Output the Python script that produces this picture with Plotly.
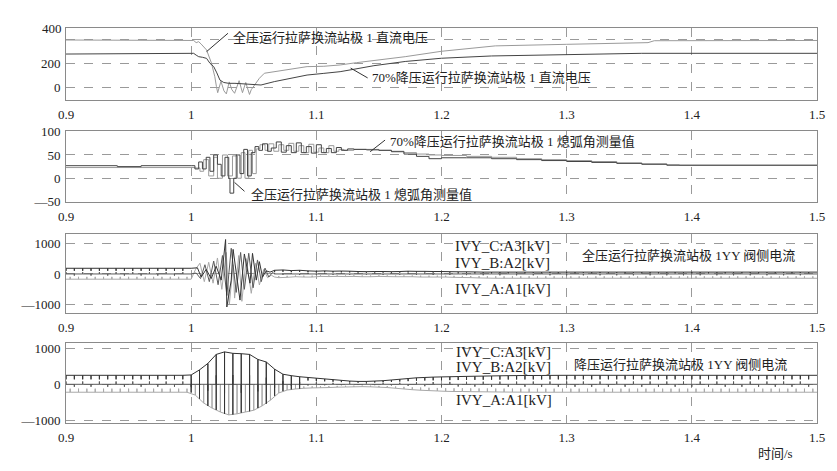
import plotly.graph_objects as go
from plotly.subplots import make_subplots

# ---------------- data ----------------
x_tickvals = [0.9, 1.0, 1.1, 1.2, 1.3, 1.4, 1.5]
x_ticktext = ["0.9", "1", "1.1", "1.2", "1.3", "1.4", "1.5"]

# Panel 1: DC voltage at Lhasa station, pole 1 (time s, kV)
udc_full = [(0.9, 394), (1.0, 394), (1.002, 390), (1.004, 372), (1.006, 380), (1.008, 360),
            (1.0123, 311), (1.0162, 202), (1.0189, 88), (1.0202, 5), (1.0212, -45), (1.0238, 50),
            (1.0262, -30), (1.0281, -55), (1.0304, 45), (1.0325, -20), (1.0347, -50), (1.0383, 55),
            (1.040, -10), (1.041, -45), (1.0436, 40), (1.0466, -60), (1.048, -20), (1.050, 10),
            (1.0525, 40), (1.0545, 75), (1.0585, 117), (1.0664, 130), (1.0743, 144), (1.0822, 158),
            (1.0926, 172), (1.106, 175), (1.119, 186), (1.132, 205), (1.1456, 222), (1.171, 255),
            (1.2, 300), (1.243, 345), (1.30, 358), (1.33, 365), (1.365, 372), (1.37, 388), (1.5, 390)]
udc_70 = [(0.9, 277), (1.0, 277), (1.002, 283), (1.004, 268), (1.006, 255), (1.009, 250),
          (1.0123, 241), (1.015, 200), (1.018, 172), (1.0205, 120), (1.023, 60), (1.026, 40),
          (1.030, 33), (1.035, 33), (1.040, 30), (1.045, 28), (1.050, 20), (1.0558, 19),
          (1.0664, 47), (1.0796, 75), (1.0926, 102), (1.106, 116), (1.119, 130), (1.13, 150),
          (1.146, 180), (1.171, 215), (1.2, 242), (1.24, 261), (1.3, 269), (1.33, 277),
          (1.36, 283), (1.5, 283)]

# Panel 2: measured extinction angle (deg)
gamma_full = [(0.9, 27), (0.94, 27), (0.941, 25), (0.96, 27), (1.0, 27), (1.003, 20), (1.006, 35),
              (1.009, 20), (1.012, 45), (1.015, 15), (1.018, 50), (1.021, 30), (1.024, 5),
              (1.027, 45), (1.030, 0), (1.031, -32), (1.034, 0), (1.036, 50), (1.039, 10),
              (1.042, 62), (1.045, 5), (1.048, 55), (1.051, 68), (1.054, 60), (1.057, 74),
              (1.061, 58), (1.064, 65), (1.068, 78), (1.072, 56), (1.076, 70), (1.080, 55),
              (1.084, 76), (1.088, 55), (1.092, 68), (1.096, 54), (1.100, 72), (1.104, 55),
              (1.108, 64), (1.112, 55), (1.116, 66), (1.120, 60), (1.125, 63), (1.13, 62),
              (1.14, 61), (1.15, 60), (1.16, 57), (1.17, 52), (1.18, 47), (1.19, 42), (1.2, 44),
              (1.22, 44), (1.24, 42), (1.26, 40), (1.28, 38), (1.3, 36), (1.32, 34), (1.34, 32),
              (1.36, 30), (1.38, 28), (1.5, 28)]
gamma_70 = [(0.9, 23), (1.0, 23), (1.003, 22), (1.007, 15), (1.010, 40), (1.014, 5), (1.018, 45),
            (1.021, 0), (1.025, 50), (1.029, 5), (1.033, 48), (1.037, 0), (1.040, 55), (1.043, 0),
            (1.046, 60), (1.049, 10), (1.052, 63), (1.055, 72), (1.059, 60), (1.062, 74),
            (1.066, 58), (1.070, 72), (1.074, 60), (1.078, 75), (1.082, 58), (1.086, 70),
            (1.090, 55), (1.094, 73), (1.098, 56), (1.102, 65), (1.106, 55), (1.110, 70),
            (1.114, 58), (1.118, 62), (1.122, 60), (1.13, 62), (1.14, 62), (1.15, 60), (1.16, 58),
            (1.17, 55), (1.18, 52), (1.19, 50), (1.2, 49), (1.22, 47), (1.24, 45), (1.26, 42),
            (1.28, 40), (1.3, 38), (1.32, 36), (1.34, 33), (1.36, 31), (1.38, 29), (1.39, 28),
            (1.5, 28)]

# Panels 3-4: YY valve-side phase currents as recorded (levels per 60-degree interval, 50 Hz)
seg_t0 = 0.9
seg_dt = 1 / 300
tick_period = 1 / 150          # spacing of the commutation spikes seen on each trace
tick_frac = 0.45               # spike depth relative to the trace level in steady state

# Panel 3 (full-voltage operation): C on top, B centre, A bottom
ivy1_pre_hi = [185] * 30
ivy1_pre_lo = [-170] * 30
ivy1_A_fault = [(1.000, -170), (1.0035, 150), (1.007, 350), (1.0105, -250), (1.014, 380),
                (1.0175, -300), (1.021, 520), (1.0245, -500), (1.028, 700), (1.0305, -1000),
                (1.0335, 300), (1.0347, -785), (1.038, 600), (1.0405, -890), (1.044, 500),
                (1.048, -630), (1.0515, 350), (1.0545, -358), (1.058, 150), (1.061, -120),
                (1.064, -40), (1.0667, -100)]
ivy1_B_fault = [(1.000, 0), (1.004, 30), (1.0075, -150), (1.011, 300), (1.0145, -250),
                (1.018, 420), (1.0215, -350), (1.025, 600), (1.0285, -700), (1.032, 836),
                (1.036, -600), (1.0395, 700), (1.0425, -500), (1.046, 673), (1.0495, -450),
                (1.053, 456), (1.056, -250), (1.059, 190), (1.062, -100), (1.065, 50), (1.0667, 0)]
ivy1_C_fault = [(1.000, 185), (1.005, 200), (1.008, -100), (1.012, 150), (1.016, -150),
                (1.020, 250), (1.024, -200), (1.0275, 1120), (1.0285, -1075), (1.032, -200),
                (1.0335, 800), (1.036, 0), (1.039, -850), (1.0425, 650), (1.047, -300),
                (1.049, 670), (1.052, -200), (1.0545, 400), (1.057, -100), (1.060, 100),
                (1.063, 60), (1.0667, 120)]
ivy1_post_hi = ([120, 100, 130, 90, 110, 100, 120, 90, 100, 110,
                 90, 80, 100, 80, 90, 85, 95, 80, 90, 85,
                 80, 90, 75, 85, 80, 90, 80, 85, 75, 85,
                 80, 85, 90, 80, 85, 80, 85, 80, 80, 80,
                 80, 80, 75, 75, 70, 70, 70, 65, 65, 65, 60, 60, 60, 60, 60] + [60] * 75)
ivy1_post_lo = ([-100, -120, -90, -110, -100, -90, -110, -100, -90, -100,
                 -90, -80, -95, -85, -90, -80, -95, -85, -90, -80,
                 -85, -90, -80, -90, -85, -80, -90, -85, -80, -90,
                 -85, -90, -95, -90, -95, -100, -95, -100, -100, -100,
                 -100, -100, -105, -110, -110, -115, -120, -120, -125, -130, -130, -135, -135,
                 -140, -140] + [-140] * 75)

# Panel 4 (reduced-voltage operation)
ivy2_hi = ([250] * 30 +
           [260, 320, 400, 480, 580, 700, 830, 890, 900, 880, 860, 880,
            850, 860, 830, 760, 690, 660, 620, 540, 420, 330, 280, 260,
            240, 220, 210, 200, 190, 180, 170, 160, 150, 140, 130, 120,
            110, 100, 90, 85, 80, 80, 80, 85, 90, 95, 100, 110,
            120, 130, 140, 150, 160, 170, 180, 185, 190, 195, 200, 200,
            205, 210, 210, 215, 215, 220, 220, 222, 224, 226, 228, 230,
            232, 234, 236, 238, 240, 240, 242, 242, 244, 244, 245, 245,
            245, 246, 247, 248, 249, 250] +
           [250] * 60)
ivy2_lo = ([-220] * 30 +
           [-230, -300, -400, -520, -600, -660, -710, -770, -820, -850, -840, -820,
            -790, -770, -750, -720, -660, -600, -540, -440, -320, -240, -190, -160,
            -140, -130, -120, -110, -110, -100, -100, -95, -90, -90, -85, -80,
            -80, -75, -70, -70, -65, -65, -70, -70, -75, -80, -85, -90,
            -100, -110, -120, -130, -140, -150, -160, -165, -170, -175, -180, -185,
            -190, -195, -195, -200, -200, -200, -205, -205, -207, -208, -210, -210,
            -212, -213, -214, -215, -216, -217, -218, -218, -219, -219, -220, -220,
            -220, -220, -220, -220, -220, -220] +
           [-220] * 60)
ivy2_full_swing = (30, 57)      # intervals where the spikes swing across the whole band

assert len(ivy1_post_hi) == 130 and len(ivy1_post_lo) == 130
assert len(ivy2_hi) == 180 and len(ivy2_lo) == 180

# ---------------- figure ----------------
# the page adds an 8px body margin, so the figure is sized to the remaining window
OFF = 8
W, H = 837 - OFF, 471 - OFF
PL, PR, PT, PB = 60, 817, 28, 423          # plot area in window pixels
ML, MR, MT, MB = PL - OFF, W - (PR - OFF), PT - OFF, H - (PB - OFF)
PH = H - MT - MB


def ydom(top_px, bot_px):
    return [(PB - bot_px) / PH, (PB - top_px) / PH]


fig = make_subplots(rows=4, cols=1)

DARK = "#333333"
MID = "#5a5a5a"
LIGHT = "#a8a8a8"
COL_A, COL_B, COL_C = LIGHT, MID, DARK


def add_xy(pairs, row, color, shape="linear"):
    fig.add_trace(go.Scatter(x=[p[0] for p in pairs], y=[p[1] for p in pairs], mode="lines",
                             line=dict(color=color, width=1, shape=shape),
                             showlegend=False, hoverinfo="skip"), row=row, col=1)


def add_ticked(hi, lo, k_start, which, row, color, full=(0, 0), offset=0.0):
    """Trace held at its level (hi for C, lo for A, 0 for B) with commutation spikes."""
    n = len(hi)
    t_start = seg_t0 + k_start * seg_dt
    t_end = t_start + n * seg_dt

    def base(k):
        return hi[k] if which == "C" else (lo[k] if which == "A" else 0)

    xs, ys = [t_start], [base(0)]
    j = 0
    while True:
        t = t_start + offset + j * tick_period
        if t >= t_end - 1e-9:
            break
        k = min(int((t - t_start) / seg_dt + 1e-9), n - 1)
        kg = k_start + k
        swing = full[0] <= kg < full[1]
        b = base(k)
        if which == "C":
            tgt = lo[k] if swing else b * (1 - tick_frac)
        elif which == "A":
            tgt = 0 if swing else b * (1 - tick_frac)
        else:
            amp = 0.3 if swing else tick_frac * 0.7
            tgt = (hi[k] if j % 2 == 0 else lo[k]) * amp
        xs += [t, t, t]
        ys += [b, tgt, b]
        j += 1
    xs.append(t_end)
    ys.append(base(n - 1))
    fig.add_trace(go.Scatter(x=xs, y=ys, mode="lines", line=dict(color=color, width=1),
                             showlegend=False, hoverinfo="skip"), row=row, col=1)


# panel 1
add_xy(udc_full, 1, "#9a9a9a")
add_xy(udc_70, 1, "#444444")
# panel 2
add_xy(gamma_70, 2, "#9a9a9a", "hv")
add_xy(gamma_full, 2, "#444444", "hv")
# panel 3
for which, tr, col, off in [("A", ivy1_A_fault, COL_A, seg_dt), ("B", ivy1_B_fault, COL_B, 0.0),
                            ("C", ivy1_C_fault, COL_C, 0.0)]:
    add_ticked(ivy1_pre_hi, ivy1_pre_lo, 0, which, 3, col, offset=off)
    add_xy(tr, 3, col)
    add_ticked(ivy1_post_hi, ivy1_post_lo, 50, which, 3, col, offset=off)
# panel 4
for which, col, off in [("A", COL_A, seg_dt), ("B", COL_B, 0.0), ("C", COL_C, 0.0)]:
    add_ticked(ivy2_hi, ivy2_lo, 0, which, 4, col, full=ivy2_full_swing, offset=off)

TICKFONT = dict(family="Liberation Serif, Noto Sans CJK SC", size=13, color="#222")
doms = [ydom(28, 100), ydom(131, 202), ydom(234, 313), ydom(343, 423)]
yranges = [[-106, 494], [-51, 101.5], [-1270, 1300], [-1075, 1147]]
ytickvals = [[0, 200, 400], [-50, 0, 50, 100], [-1000, 0, 1000], [-1000, 0, 1000]]
yticktext = [["0", "200", ""], ["—50", "0", "50", "100"], ["—1000", "0", "1000"],
             ["—1000", "0", "1000"]]

for i in range(4):
    xa = "xaxis" if i == 0 else f"xaxis{i + 1}"
    ya = "yaxis" if i == 0 else f"yaxis{i + 1}"
    fig.layout[xa].update(domain=[0, 1], range=[0.9, 1.5], tickvals=x_tickvals,
                          ticktext=x_ticktext, tickfont=TICKFONT, showgrid=True,
                          gridcolor="#9a9a9a", griddash="dash", gridwidth=1, zeroline=False,
                          showline=True, linecolor="#8a8a8a", linewidth=1, mirror=True,
                          ticks="", ticklabelstandoff=2)
    fig.layout[ya].update(domain=doms[i], range=yranges[i], tickvals=ytickvals[i],
                          ticktext=yticktext[i], tickfont=TICKFONT, showgrid=True,
                          gridcolor="#9a9a9a", griddash="dash", gridwidth=1, zeroline=False,
                          showline=True, linecolor="#8a8a8a", linewidth=1, mirror=True,
                          ticks="", ticklabelstandoff=2)

CJK = dict(family="Liberation Serif, Noto Sans CJK SC", size=13, color="#222")
SER = dict(family="Liberation Serif", size=15, color="#222")

ann = [
    dict(text="400", xref="x domain", x=0, xanchor="right", xshift=-2, yref="y", y=494,
         yanchor="middle", font=TICKFONT),
    dict(text="全压运行拉萨换流站极 1 直流电压", xref="x", x=1.0321, yref="y", y=419,
         xanchor="left", yanchor="middle", font=CJK),
    dict(text="70%降压运行拉萨换流站极 1 直流电压", xref="x", x=1.143, yref="y", y=78,
         xanchor="left", yanchor="middle", font=CJK),
    dict(text="70%降压运行拉萨换流站极 1 熄弧角测量值", xref="x2", x=1.1575, yref="y2", y=78,
         xanchor="left", yanchor="middle", font=CJK),
    dict(text="全压运行拉萨换流站极 1 熄弧角测量值", xref="x2", x=1.0466, yref="y2", y=-34,
         xanchor="left", yanchor="middle", font=CJK),
    dict(text="IVY_C:A3[kV]", xref="x3", x=1.209, yref="y3", y=912, xanchor="left",
         yanchor="middle", font=SER),
    dict(text="IVY_B:A2[kV]", xref="x3", x=1.209, yref="y3", y=358, xanchor="left",
         yanchor="middle", font=SER),
    dict(text="IVY_A:A1[kV]", xref="x3", x=1.209, yref="y3", y=-489, xanchor="left",
         yanchor="middle", font=SER),
    dict(text="全压运行拉萨换流站极 1YY 阀侧电流", xref="x3", x=1.3105, yref="y3", y=586,
         xanchor="left", yanchor="middle", font=CJK),
    dict(text="IVY_C:A3[kV]", xref="x4", x=1.2098, yref="y4", y=900, xanchor="left",
         yanchor="middle", font=SER),
    dict(text="IVY_B:A2[kV]", xref="x4", x=1.2098, yref="y4", y=486, xanchor="left",
         yanchor="middle", font=SER),
    dict(text="IVY_A:A1[kV]", xref="x4", x=1.2098, yref="y4", y=-434, xanchor="left",
         yanchor="middle", font=SER),
    dict(text="降压运行拉萨换流站极 1YY 阀侧电流", xref="x4", x=1.304, yref="y4", y=552,
         xanchor="left", yanchor="middle", font=CJK),
    dict(text="时间/s", xref="paper", x=(795 - PL) / (PR - PL), yref="paper",
         y=(PB - 453) / PH, xanchor="right", yanchor="middle", font=CJK),
]
for a in ann:
    a["showarrow"] = False
fig.update_layout(annotations=ann)

# leader lines
leaders = [("x", "y", 1.0294, 450, 1.0123, 297),
           ("x", "y", 1.141, 78, 1.1274, 160),
           ("x2", "y2", 1.1549, 82, 1.143, 57),
           ("x2", "y2", 1.0426, -28, 1.0347, -9)]
for xr, yr, x0, y0, x1, y1 in leaders:
    fig.add_shape(type="line", xref=xr, yref=yr, x0=x0, y0=y0, x1=x1, y1=y1,
                  line=dict(color="#333", width=1))

fig.update_layout(width=W, height=H, margin=dict(l=ML, r=MR, t=MT, b=MB),
                  plot_bgcolor="white", paper_bgcolor="white", showlegend=False)

fig.write_html("out.html")
